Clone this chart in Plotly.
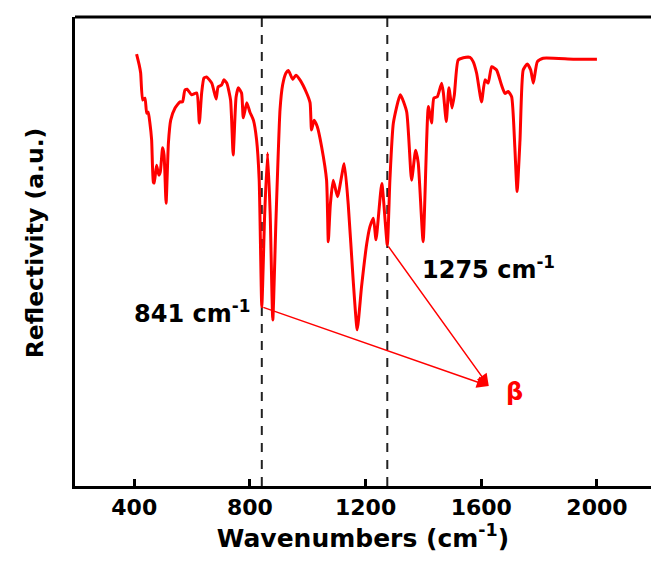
import plotly.graph_objects as go

# ---- data ----
wavenumber = [408, 417, 422, 429, 437, 443, 448, 454, 460, 466, 469, 477, 485, 490, 498, 503,
              510, 518, 526, 541, 558, 567, 575, 583, 598, 616, 625, 633, 641, 650, 668, 683,
              690, 702, 710, 720, 733, 742, 752, 760, 771, 777, 789, 800, 812, 823, 832, 841,
              851, 861, 870, 879, 890, 904, 913, 925, 933, 948, 959, 973, 996, 1008, 1013, 1022,
              1033, 1048, 1065, 1071, 1078, 1088, 1103, 1126, 1140, 1157, 1171, 1186, 1204, 1215,
              1227, 1236, 1256, 1275, 1284, 1296, 1320, 1342, 1359, 1373, 1382, 1399, 1417, 1428,
              1436, 1448, 1463, 1469, 1479, 1488, 1499, 1507, 1520, 1538, 1561, 1572, 1584, 1601,
              1613, 1624, 1636, 1653, 1670, 1682, 1693, 1705, 1716, 1724, 1734, 1745, 1759, 1771,
              1780, 1794, 1814, 1918, 2000]
reflectivity = [92.1, 89.8, 88.1, 82.3, 82.7, 79.5, 79.7, 77.4, 73.8, 64.8, 64.6, 68.4, 66.3, 67.0, 72.1, 70.6,
                60.3, 73.1, 78.0, 80.6, 81.9, 81.9, 84.4, 84.6, 83.4, 83.8, 77.4, 83.8, 87.0, 87.2, 85.9, 82.5,
                85.1, 85.5, 86.6, 85.9, 82.3, 70.6, 82.9, 84.9, 83.8, 78.5, 81.7, 79.7, 78.0, 73.8, 65.2, 38.2,
                58.0, 71.0, 58.0, 35.4, 56.7, 80.2, 85.5, 88.1, 88.6, 86.7, 87.6, 86.6, 83.8, 81.7, 75.9, 78.0,
                76.6, 72.3, 65.2, 52.1, 60.0, 65.2, 61.7, 68.7, 60.0, 43.9, 33.3, 42.5, 51.7, 55.3,
                57.1, 52.5, 64.5, 51.4, 65.2, 77.4, 83.4, 79.8, 65.2, 71.6, 68.9, 52.1, 80.9, 77.4,
                82.7, 83.0, 85.9, 83.8, 77.7, 84.9, 80.6, 83.4, 90.8, 91.3, 91.4, 90.5, 88.0, 81.9,
                86.6, 85.9, 89.4, 88.7, 85.5, 83.7, 84.1, 83.0, 72.3, 62.8, 73.8, 88.7, 90.0, 88.7,
                85.9, 90.5, 91.2, 91.0, 91.0]

x_ticks = [400, 800, 1200, 1600, 2000]
marker_wavenumbers = [841, 1275]
marker_labels = ["841 cm<sup>-1</sup>", "1275 cm<sup>-1</sup>"]
beta_tip = (1626, 21.3)
beta_label_pos = (1716, 20.1)

FONT = "DejaVu Sans"
RED = "#ff0000"

fig = go.Figure()
fig.add_trace(go.Scatter(x=wavenumber, y=reflectivity, mode="lines",
                         line=dict(color=RED, width=3, shape="spline", smoothing=0.5),
                         showlegend=False, hoverinfo="skip"))

# dashed marker lines
for wn in marker_wavenumbers:
    fig.add_shape(type="line", xref="x", yref="paper", x0=wn, x1=wn, y0=0, y1=1,
                  line=dict(color="#222222", width=2, dash="9px,8px"), layer="below")

# top frame line
fig.add_shape(type="line", xref="paper", yref="paper", x0=0, x1=1, y0=1, y1=1,
              line=dict(color="black", width=3))

def y_at(xv):
    i = wavenumber.index(xv)
    return reflectivity[i]

# arrows from the marked minima to beta
for wn in marker_wavenumbers:
    fig.add_annotation(x=beta_tip[0], y=beta_tip[1], ax=wn, ay=y_at(wn),
                       xref="x", yref="y", axref="x", ayref="y", text="",
                       showarrow=True, arrowhead=2, arrowsize=1.6, arrowwidth=1.5,
                       arrowcolor=RED)

# labels
fig.add_annotation(x=807, y=37.2, xref="x", yref="y", text=marker_labels[0],
                   showarrow=False, xanchor="right", yanchor="middle",
                   font=dict(family=FONT, size=24, color="black", weight="bold"))
fig.add_annotation(x=1388, y=46.5, xref="x", yref="y", text=marker_labels[1],
                   showarrow=False, xanchor="left", yanchor="middle",
                   font=dict(family=FONT, size=24, color="black", weight="bold"))
fig.add_annotation(x=beta_label_pos[0], y=beta_label_pos[1], xref="x", yref="y", text="β",
                   showarrow=False, xanchor="center", yanchor="middle",
                   font=dict(family=FONT, size=24, color=RED, weight="bold"))

# y-axis title as a rotated annotation (slightly above plot centre, as in the reference)
fig.add_annotation(x=-0.069, y=0.518, xref="paper", yref="paper", text="Reflectivity (a.u.)",
                   textangle=-90, showarrow=False, xanchor="center", yanchor="middle",
                   font=dict(family=FONT, size=23.5, color="black", weight="bold"))

fig.update_xaxes(range=[195, 2187], tickvals=x_ticks, ticktext=[str(t) for t in x_ticks],
                 ticks="inside", ticklen=7, tickwidth=2.5, tickcolor="black",
                 showline=True, linecolor="black", linewidth=3, showgrid=False, zeroline=False,
                 tickfont=dict(family=FONT, size=22, color="black", weight="bold"),
                 title=dict(text="Wavenumbers (cm<sup>-1</sup>)", standoff=0,
                            font=dict(family=FONT, size=25, color="black", weight="bold")))
fig.update_yaxes(range=[0, 100], showticklabels=False, ticks="",
                 showline=True, linecolor="black", linewidth=3, showgrid=False, zeroline=False)

fig.update_layout(width=651, height=568, margin=dict(l=75, r=0, t=17, b=82),
                  paper_bgcolor="white", plot_bgcolor="white")

fig.write_html("out.html", config={"displayModeBar": False},
               post_script="document.body.style.margin='0';document.body.style.overflow='hidden';")
